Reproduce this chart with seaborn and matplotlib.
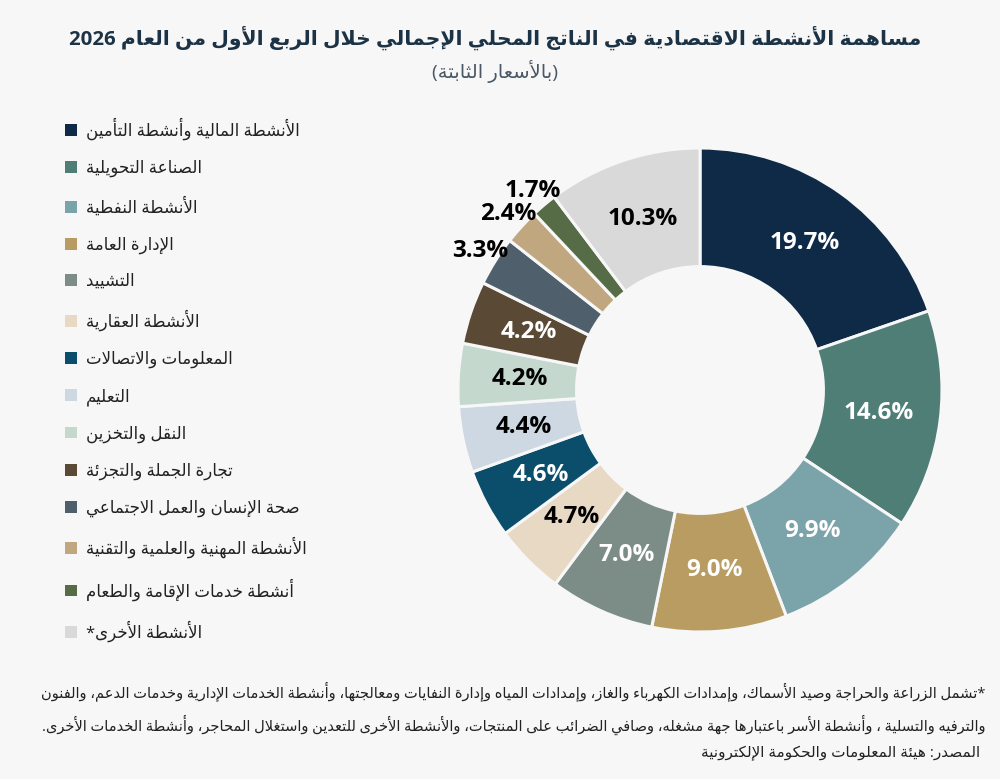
import re
import numpy as np
import pandas as pd
import seaborn as sns
import matplotlib
matplotlib.use('Agg')
import matplotlib.pyplot as plt
from matplotlib.patches import Patch

TITLE = "مساهمة الأنشطة الاقتصادية في الناتج المحلي الإجمالي خلال الربع الأول من العام 2026"
SUBTITLE = "(بالأسعار الثابتة)"
SECTORS = [
    "الأنشطة المالية وأنشطة التأمين",
    "الصناعة التحويلية",
    "الأنشطة النفطية",
    "الإدارة العامة",
    "التشييد",
    "الأنشطة العقارية",
    "المعلومات والاتصالات",
    "التعليم",
    "النقل والتخزين",
    "تجارة الجملة والتجزئة",
    "صحة الإنسان والعمل الاجتماعي",
    "الأنشطة المهنية والعلمية والتقنية",
    "أنشطة خدمات الإقامة والطعام",
    "الأنشطة الأخرى*",
]
SHARES = [19.7, 14.6, 9.9, 9.0, 7.0, 4.7, 4.6, 4.4, 4.2, 4.2, 3.3, 2.4, 1.7, 10.3]
FOOTNOTE = [
    "*تشمل الزراعة والحراجة وصيد الأسماك، وإمدادات الكهرباء والغاز، وإمدادات المياه وإدارة النفايات ومعالجتها، وأنشطة الخدمات الإدارية وخدمات الدعم، والفنون",
    "والترفيه والتسلية ، وأنشطة الأسر باعتبارها جهة مشغله، وصافي الضرائب على المنتجات، والأنشطة الأخرى للتعدين واستغلال المحاجر، وأنشطة الخدمات الأخرى.",
]
SOURCE = "المصدر: هيئة المعلومات والحكومة الإلكترونية"

COLORS = ["#0e2a47", "#4e7e76", "#7ba3aa", "#b89c62", "#7c8d87", "#e7d9c4",
          "#0b4e6b", "#cdd8e3", "#c4d8ce", "#5a4a35", "#4f5f6c", "#c0a77f",
          "#566c47", "#d9d9d9"]
TEXT_COLORS = ["white", "white", "white", "white", "white", "black", "white",
               "black", "black", "white", "black", "black", "black", "black"]
BG = "#f7f7f7"

# --- tiny arabic shaper (matplotlib has no text shaping / bidi) ---
FORMS = {
    'ء': (0xFE80, 1), 'آ': (0xFE81, 2), 'أ': (0xFE83, 2), 'ؤ': (0xFE85, 2),
    'إ': (0xFE87, 2), 'ئ': (0xFE89, 4), 'ا': (0xFE8D, 2), 'ب': (0xFE8F, 4),
    'ة': (0xFE93, 2), 'ت': (0xFE95, 4), 'ث': (0xFE99, 4), 'ج': (0xFE9D, 4),
    'ح': (0xFEA1, 4), 'خ': (0xFEA5, 4), 'د': (0xFEA9, 2), 'ذ': (0xFEAB, 2),
    'ر': (0xFEAD, 2), 'ز': (0xFEAF, 2), 'س': (0xFEB1, 4), 'ش': (0xFEB5, 4),
    'ص': (0xFEB9, 4), 'ض': (0xFEBD, 4), 'ط': (0xFEC1, 4), 'ظ': (0xFEC5, 4),
    'ع': (0xFEC9, 4), 'غ': (0xFECD, 4), 'ف': (0xFED1, 4), 'ق': (0xFED5, 4),
    'ك': (0xFED9, 4), 'ل': (0xFEDD, 4), 'م': (0xFEE1, 4), 'ن': (0xFEE5, 4),
    'ه': (0xFEE9, 4), 'و': (0xFEED, 2), 'ى': (0xFEEF, 2), 'ي': (0xFEF1, 4),
}
LAM_ALEF = {'آ': 0xFEF5, 'أ': 0xFEF7, 'إ': 0xFEF9, 'ا': 0xFEFB}


def ar(text):
    units = []
    i = 0
    while i < len(text):
        c = text[i]
        if c == 'ل' and i + 1 < len(text) and text[i + 1] in LAM_ALEF:
            units.append(('LA', text[i + 1]))
            i += 2
        else:
            units.append(c)
            i += 1

    def joins_next(u):
        return not isinstance(u, tuple) and u in FORMS and FORMS[u][1] == 4

    def joins_prev(u):
        return isinstance(u, tuple) or (u in FORMS and FORMS[u][1] >= 2)

    out = []
    for k, u in enumerate(units):
        prev = k > 0 and joins_next(units[k - 1]) and joins_prev(u)
        nxt = k < len(units) - 1 and joins_next(u) and joins_prev(units[k + 1])
        if isinstance(u, tuple):
            out.append(chr(LAM_ALEF[u[1]] + (1 if prev else 0)))
        elif u in FORMS:
            base, n = FORMS[u]
            if n == 4:
                idx = {(False, False): 0, (True, False): 1,
                       (False, True): 2, (True, True): 3}[(prev, nxt)]
            elif n == 2:
                idx = 1 if prev else 0
            else:
                idx = 0
            out.append(chr(base + idx))
        else:
            out.append(u)
    vis = "".join(out)[::-1]
    vis = re.sub(r"[0-9]+", lambda m: m.group()[::-1], vis)
    vis = vis.translate(str.maketrans("()", ")("))
    return vis


df = pd.DataFrame({"sector": SECTORS, "share": SHARES})

sns.set_theme(style="white")
plt.rcParams['font.family'] = ['Open Sans', 'DejaVu Sans']
plt.rcParams['figure.facecolor'] = BG
plt.rcParams['axes.facecolor'] = BG

fig = plt.figure(figsize=(10, 7.79), dpi=100)
ax = fig.add_axes([0.458, 0.1887, 0.484, 0.6213])

wedges, texts, autotexts = ax.pie(
    df["share"], colors=COLORS, startangle=90, counterclock=False,
    autopct="%.1f%%", pctdistance=0.745,
    wedgeprops=dict(width=0.49, edgecolor=BG, linewidth=2.2),
    textprops=dict(fontsize=17.5, fontweight="bold"))
ax.set_xlim(-1, 1)
ax.set_ylim(-1, 1)

for w, t, c, v in zip(wedges, autotexts, TEXT_COLORS, df["share"]):
    t.set_color(c)
    if v < 4:
        ang = np.deg2rad((w.theta1 + w.theta2) / 2)
        t.set_position((1.075 * np.cos(ang), 1.075 * np.sin(ang)))

handles = [Patch(facecolor=c, edgecolor="none") for c in COLORS]
fig.legend(handles, [ar(s) for s in df["sector"]], loc="upper left",
           bbox_to_anchor=(0.05, 0.868), frameon=False, fontsize=12,
           handlelength=0.7, handleheight=0.7, handletextpad=0.55,
           labelspacing=1.19, labelcolor="#222222")

fig.text(0.495, 0.952, ar(TITLE), ha="center", va="center", fontsize=14.7,
         fontweight="bold", color="#1c3346")
fig.text(0.495, 0.908, ar(SUBTITLE), ha="center", va="center", fontsize=14,
         color="#4a5866")

fig.text(0.985, 0.112, ar(FOOTNOTE[0]), ha="right", va="center", fontsize=10.5,
         color="#222222")
fig.text(0.985, 0.069, ar(FOOTNOTE[1]), ha="right", va="center", fontsize=10.5,
         color="#222222")
fig.text(0.98, 0.032, ar(SOURCE), ha="right", va="center", fontsize=11,
         color="#222222")

fig.savefig("out.png", dpi=100, facecolor=BG)
plt.close(fig)
